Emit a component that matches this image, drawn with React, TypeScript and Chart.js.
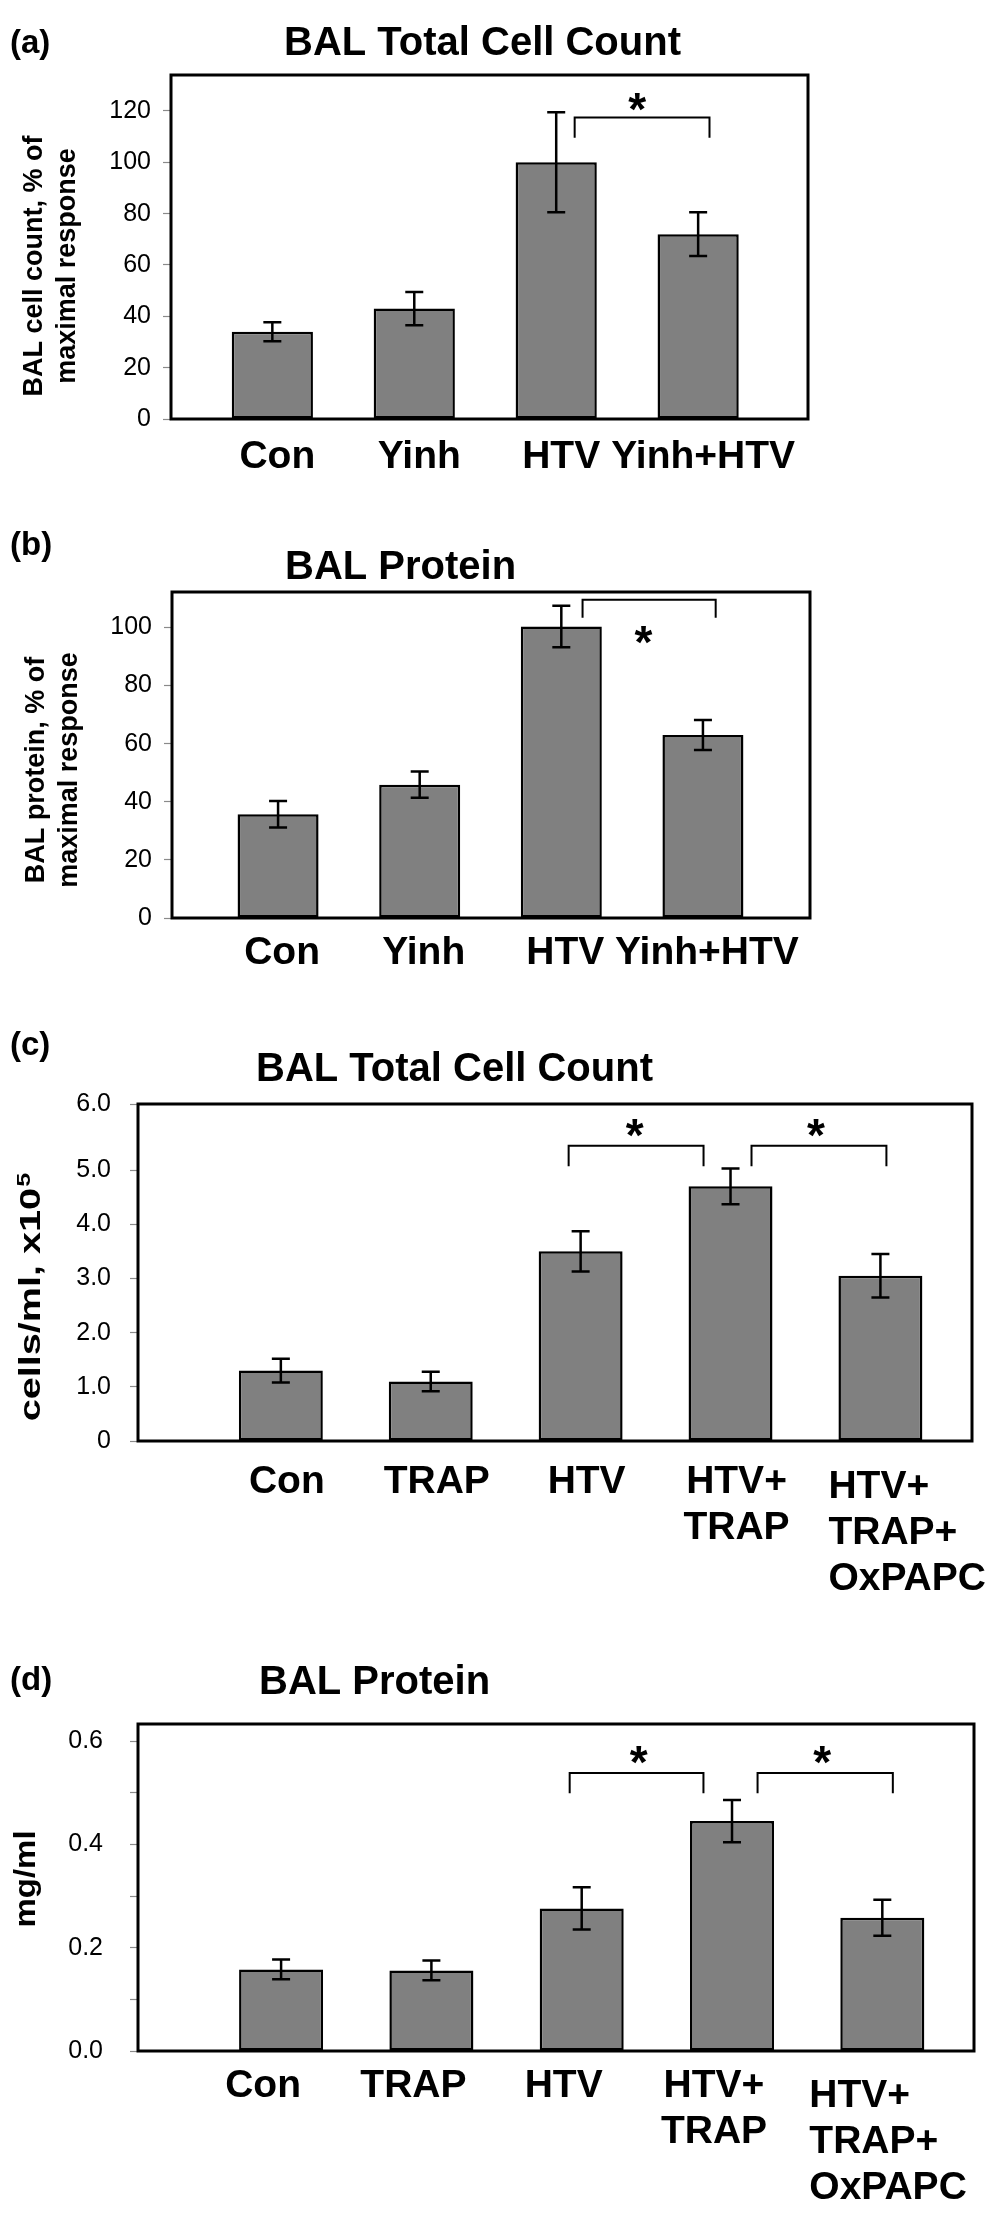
import React, { useEffect, useRef } from "react";
import { Chart, registerables } from "chart.js";

Chart.register(...registerables);

const FONT = '"Liberation Sans", Arial, Helvetica, sans-serif';

// ---------------- Panel (a) ----------------
const letterA = "(a)";
const titleA = "BAL Total Cell Count";
const yTitleA = ["BAL cell count, % of", "maximal response"];
const categoriesA = [["Con"], ["Yinh"], ["HTV"], ["Yinh+HTV"]];
const valuesA = [34, 43, 100, 72];
const errorsA = [3.7, 6.5, 19.5, 8.5];
const tickValuesA = [0, 20, 40, 60, 80, 100, 120];
const tickLabelsA = ["0", "20", "40", "60", "80", "100", "120"];
const yMaxA = 134;
const bracketStartA = [2.13];
const bracketEndA = [3.08];
const bracketTopA = [117.4];
const bracketLegA = [109.6];
const starXA = [2.57];
const starYA = [125];

// ---------------- Panel (b) ----------------
const letterB = "(b)";
const titleB = "BAL Protein";
const yTitleB = ["BAL protein, % of", "maximal response"];
const categoriesB = [["Con"], ["Yinh"], ["HTV"], ["Yinh+HTV"]];
const valuesB = [35.7, 45.9, 100.3, 63];
const errorsB = [4.55, 4.55, 7.15, 5.15];
const tickValuesB = [0, 20, 40, 60, 80, 100];
const tickLabelsB = ["0", "20", "40", "60", "80", "100"];
const yMaxB = 112.2;
const bracketStartB = [2.15];
const bracketEndB = [3.09];
const bracketTopB = [109.5];
const bracketLegB = [103.3];
const starXB = [2.58];
const starYB = [98.5];

// ---------------- Panel (c) ----------------
const letterC = "(c)";
const titleC = "BAL Total Cell Count";
const yTitleC = ["cells/ml, x10"];
const ySupC = "5";
const categoriesC = [["Con"], ["TRAP"], ["HTV"], ["HTV+", "TRAP"], ["HTV+", "TRAP+", "OxPAPC"]];
const valuesC = [1.3, 1.1, 3.5, 4.7, 3.05];
const errorsC = [0.22, 0.18, 0.37, 0.33, 0.4];
const tickValuesC = [0, 1, 2, 3, 4, 5, 6.22];
const tickLabelsC = ["0", "1.0", "2.0", "3.0", "4.0", "5.0", "6.0"];
const yMaxC = 6.22;
const bracketStartC = [1.92, 3.14];
const bracketEndC = [2.82, 4.04];
const bracketTopC = [5.45, 5.45];
const bracketLegC = [5.07, 5.07];
const starXC = [2.36, 3.57];
const starYC = [5.85, 5.85];

// ---------------- Panel (d) ----------------
const letterD = "(d)";
const titleD = "BAL Protein";
const yTitleD = ["mg/ml"];
const categoriesD = [["Con"], ["TRAP"], ["HTV"], ["HTV+", "TRAP"], ["HTV+", "TRAP+", "OxPAPC"]];
const valuesD = [0.158, 0.156, 0.276, 0.445, 0.258];
const errorsD = [0.019, 0.019, 0.041, 0.041, 0.035];
const tickValuesD = [0, 0.1, 0.2, 0.3, 0.4, 0.5, 0.6];
const tickLabelsD = ["0.0", "", "0.2", "", "0.4", "", "0.6"];
const yMaxD = 0.633;
const bracketStartD = [1.92, 3.17];
const bracketEndD = [2.81, 4.07];
const bracketTopD = [0.538, 0.538];
const bracketLegD = [0.499, 0.499];
const starXD = [2.38, 3.6];
const starYD = [0.581, 0.581];

// ---------------- Layout / style (page coordinates) ----------------
const layoutA = {
  top: 0, height: 500,
  area: { left: 171, right: 808, top: 75, bottom: 419 },
  xMin: -0.714, xMax: 3.774, barFrac: 0.572, tickPad: 12,
  letterPos: [10, 44], titlePos: [284, 44],
  yTitleX: [42, 75], yTitleY: 266, yTitleSize: 27, yTitleStretch: 1,
  labelY: 457, labelDx: 5, lineH: 46, lastLeftDx: null as number | null, lastDy: 0,
};
const layoutB = {
  top: 500, height: 500,
  area: { left: 172, right: 810, top: 592, bottom: 918 },
  xMin: -0.749, xMax: 3.756, barFrac: 0.572, tickPad: 12,
  letterPos: [10, 546], titlePos: [285, 568],
  yTitleX: [44, 77], yTitleY: 770, yTitleSize: 27, yTitleStretch: 1,
  labelY: 953, labelDx: 4, lineH: 46, lastLeftDx: null as number | null, lastDy: 0,
};
const layoutC = {
  top: 1000, height: 640,
  area: { left: 138, right: 972, top: 1104, bottom: 1441 },
  xMin: -0.953, xMax: 4.611, barFrac: 0.56, tickPad: 19,
  letterPos: [10, 1046], titlePos: [256, 1070],
  yTitleX: [40], yTitleY: 1297, yTitleSize: 30, yTitleStretch: 1.32,
  labelY: 1482, labelDx: 6, lineH: 46, lastLeftDx: -52 as number | null, lastDy: 5,
};
const layoutD = {
  top: 1640, height: 579,
  area: { left: 138, right: 974, top: 1724, bottom: 2051 },
  xMin: -0.952, xMax: 4.61, barFrac: 0.559, tickPad: 27,
  letterPos: [10, 1681], titlePos: [259, 1683],
  yTitleX: [35], yTitleY: 1879, yTitleSize: 30, yTitleStretch: 1.1,
  labelY: 2086, labelDx: -18, lineH: 46, lastLeftDx: -73 as number | null, lastDy: 10,
};

type Layout = typeof layoutA;
type Panel = {
  letter: string; title: string; yTitle: string[]; ySup?: string;
  categories: string[][]; values: number[]; errors: number[];
  tickValues: number[]; tickLabels: string[]; yMax: number;
  bracketStart: number[]; bracketEnd: number[]; bracketTop: number[]; bracketLeg: number[];
  starX: number[]; starY: number[];
  layout: Layout;
};

const panels: Panel[] = [
  { letter: letterA, title: titleA, yTitle: yTitleA, categories: categoriesA, values: valuesA, errors: errorsA,
    tickValues: tickValuesA, tickLabels: tickLabelsA, yMax: yMaxA, bracketStart: bracketStartA, bracketEnd: bracketEndA,
    bracketTop: bracketTopA, bracketLeg: bracketLegA, starX: starXA, starY: starYA, layout: layoutA },
  { letter: letterB, title: titleB, yTitle: yTitleB, categories: categoriesB, values: valuesB, errors: errorsB,
    tickValues: tickValuesB, tickLabels: tickLabelsB, yMax: yMaxB, bracketStart: bracketStartB, bracketEnd: bracketEndB,
    bracketTop: bracketTopB, bracketLeg: bracketLegB, starX: starXB, starY: starYB, layout: layoutB },
  { letter: letterC, title: titleC, yTitle: yTitleC, ySup: ySupC, categories: categoriesC, values: valuesC, errors: errorsC,
    tickValues: tickValuesC, tickLabels: tickLabelsC, yMax: yMaxC, bracketStart: bracketStartC, bracketEnd: bracketEndC,
    bracketTop: bracketTopC, bracketLeg: bracketLegC, starX: starXC, starY: starYC, layout: layoutC },
  { letter: letterD, title: titleD, yTitle: yTitleD, categories: categoriesD, values: valuesD, errors: errorsD,
    tickValues: tickValuesD, tickLabels: tickLabelsD, yMax: yMaxD, bracketStart: bracketStartD, bracketEnd: bracketEndD,
    bracketTop: bracketTopD, bracketLeg: bracketLegD, starX: starXD, starY: starYD, layout: layoutD },
];

function makePlugin(p: Panel) {
  const L = p.layout;
  return {
    id: "panelDecor",
    afterDatasetsDraw(chart: any) {
      const ctx: CanvasRenderingContext2D = chart.ctx;
      const xs = chart.scales.x;
      const ys = chart.scales.y;
      ctx.save();
      ctx.strokeStyle = "#000";
      ctx.fillStyle = "#000";
      // error bars
      ctx.lineWidth = 2.5;
      p.values.forEach((v, i) => {
        const x = xs.getPixelForValue(i);
        const yt = ys.getPixelForValue(v + p.errors[i]);
        const yb = ys.getPixelForValue(v - p.errors[i]);
        ctx.beginPath();
        ctx.moveTo(x, yt); ctx.lineTo(x, yb);
        ctx.moveTo(x - 9, yt); ctx.lineTo(x + 9, yt);
        ctx.moveTo(x - 9, yb); ctx.lineTo(x + 9, yb);
        ctx.stroke();
      });
      // frame
      const a = chart.chartArea;
      ctx.lineWidth = 3;
      ctx.strokeRect(a.left, a.top, a.right - a.left, a.bottom - a.top);
      // significance brackets
      ctx.lineWidth = 2;
      p.bracketStart.forEach((s, k) => {
        const x1 = xs.getPixelForValue(s);
        const x2 = xs.getPixelForValue(p.bracketEnd[k]);
        const yT = ys.getPixelForValue(p.bracketTop[k]);
        const yL = ys.getPixelForValue(p.bracketLeg[k]);
        ctx.beginPath();
        ctx.moveTo(x1, yL); ctx.lineTo(x1, yT); ctx.lineTo(x2, yT); ctx.lineTo(x2, yL);
        ctx.stroke();
      });
      const starSize = 46;
      ctx.font = `bold ${starSize}px ${FONT}`;
      ctx.textAlign = "center";
      ctx.textBaseline = "alphabetic";
      p.starX.forEach((sx, k) => {
        ctx.fillText("*", xs.getPixelForValue(sx), ys.getPixelForValue(p.starY[k]) + 0.58 * starSize);
      });
      ctx.restore();
    },
    afterDraw(chart: any) {
      const ctx: CanvasRenderingContext2D = chart.ctx;
      const xs = chart.scales.x;
      const off = L.top;
      ctx.save();
      ctx.fillStyle = "#000";
      // panel letter
      ctx.font = `bold 33px ${FONT}`;
      ctx.textAlign = "left";
      ctx.textBaseline = "middle";
      ctx.fillText(p.letter, L.letterPos[0], L.letterPos[1] - off);
      // title
      ctx.font = `bold 40px ${FONT}`;
      ctx.fillText(p.title, L.titlePos[0], L.titlePos[1] - off);
      // category labels
      ctx.font = `bold 39px ${FONT}`;
      const n = p.categories.length;
      p.categories.forEach((lines, i) => {
        const cx = xs.getPixelForValue(i);
        const isLast = i === n - 1 && L.lastLeftDx !== null;
        ctx.textAlign = isLast ? "left" : "center";
        const x = isLast ? cx + (L.lastLeftDx as number) : cx + L.labelDx;
        lines.forEach((line, j) => {
          ctx.fillText(line, x, L.labelY - off + j * L.lineH + (isLast ? L.lastDy : 0));
        });
      });
      // rotated y-axis title
      const size = L.yTitleSize;
      p.yTitle.forEach((line, j) => {
        ctx.save();
        ctx.translate(L.yTitleX[j], L.yTitleY - off);
        ctx.rotate(-Math.PI / 2);
        ctx.scale(L.yTitleStretch, 1);
        ctx.textAlign = "left";
        ctx.textBaseline = "alphabetic";
        ctx.font = `bold ${size}px ${FONT}`;
        const w = ctx.measureText(line).width;
        const supSize = Math.round(size * 0.62);
        let supW = 0;
        const hasSup = !!p.ySup && j === p.yTitle.length - 1;
        if (hasSup) {
          ctx.font = `bold ${supSize}px ${FONT}`;
          supW = ctx.measureText(p.ySup as string).width + 1;
          ctx.font = `bold ${size}px ${FONT}`;
        }
        const start = -(w + supW) / 2;
        ctx.fillText(line, start, 0);
        if (hasSup) {
          ctx.font = `bold ${supSize}px ${FONT}`;
          ctx.fillText(p.ySup as string, start + w + 1, -size * 0.32);
        }
        ctx.restore();
      });
      ctx.restore();
    },
  };
}

function PanelChart({ p }: { p: Panel }) {
  const ref = useRef<HTMLCanvasElement>(null);
  useEffect(() => {
    const L = p.layout;
    const area = L.area;
    const chart = new Chart(ref.current as HTMLCanvasElement, {
      type: "bar",
      data: {
        datasets: [
          {
            data: p.values.map((v, i) => ({ x: i, y: v })) as any,
            backgroundColor: "#808080",
            borderColor: "#000000",
            borderWidth: 2.5,
            borderSkipped: false,
            categoryPercentage: 1,
            barPercentage: L.barFrac,
          } as any,
        ],
      },
      options: {
        responsive: false,
        maintainAspectRatio: false,
        animation: false,
        devicePixelRatio: 1,
        events: [],
        layout: {
          padding: {
            top: area.top - L.top,
            right: 1004 - area.right,
            bottom: L.top + L.height - area.bottom,
            left: 0,
          },
        },
        plugins: {
          legend: { display: false },
          tooltip: { enabled: false },
          title: { display: false },
        },
        scales: {
          x: {
            type: "linear",
            display: false,
            offset: false,
            grid: { offset: false },
            min: L.xMin,
            max: L.xMax,
            afterBuildTicks: (s: any) => {
              s.ticks = p.values.map((_, i) => ({ value: i }));
            },
          },
          y: {
            type: "linear",
            min: 0,
            max: p.yMax,
            afterBuildTicks: (s: any) => {
              s.ticks = p.tickValues.map((v) => ({ value: v }));
            },
            afterFit: (s: any) => {
              s.width = area.left;
            },
            ticks: {
              autoSkip: false,
              padding: L.tickPad,
              color: "#000",
              font: { family: FONT, size: 25 },
              callback: (_v: any, idx: number) => p.tickLabels[idx],
            },
            grid: {
              display: true,
              drawOnChartArea: false,
              drawTicks: true,
              tickLength: 8,
              tickColor: "#8a8a8a",
              tickWidth: 1.2,
            },
            border: { display: false },
          },
        } as any,
      },
      plugins: [makePlugin(p)],
    });
    return () => chart.destroy();
  }, [p]);
  return (
    <canvas
      ref={ref}
      width={1004}
      height={p.layout.height}
      style={{ position: "absolute", left: 0, top: p.layout.top, display: "block" }}
    />
  );
}

export default function App() {
  return (
    <div style={{ position: "absolute", left: 0, top: 0, width: 1004, height: 2219, background: "#fff" }}>
      {panels.map((p, i) => (
        <PanelChart key={i} p={p} />
      ))}
    </div>
  );
}
